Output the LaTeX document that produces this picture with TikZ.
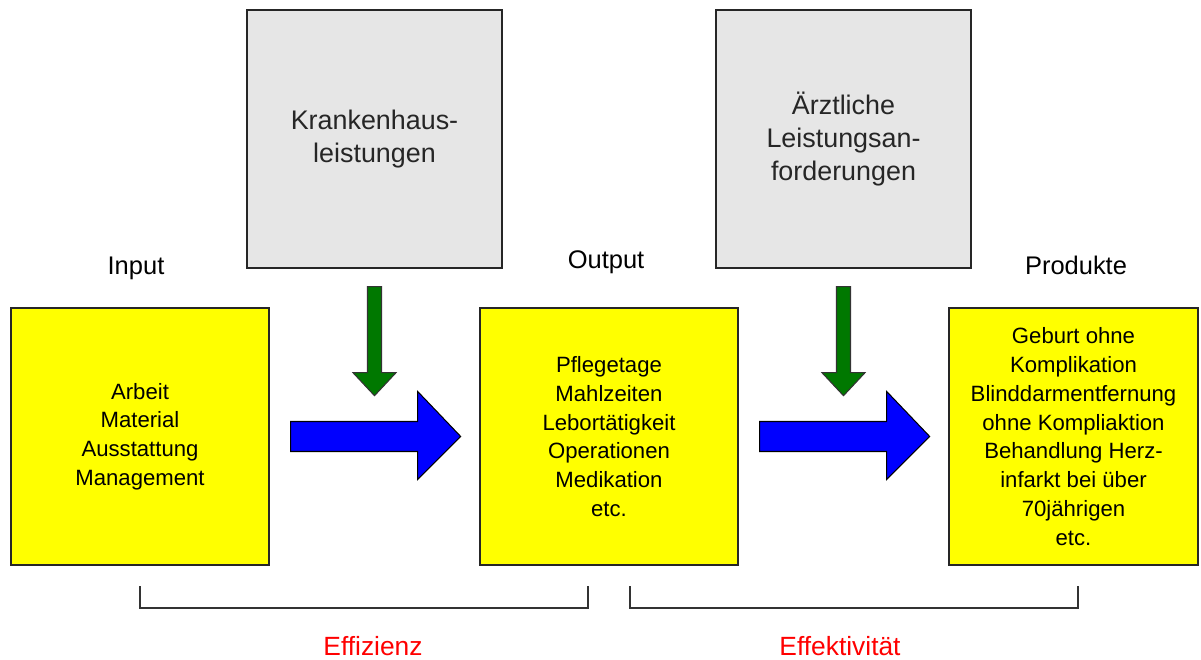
\documentclass[tikz,border=0pt]{standalone}
\usepackage{fontspec}
\setmainfont{Liberation Sans}
\usetikzlibrary{positioning,calc}
\definecolor{boxyellow}{RGB}{255,255,0}
\definecolor{boxgray}{RGB}{230,230,230}
\definecolor{arrowgreen}{RGB}{0,120,0}
\definecolor{arrowblue}{RGB}{0,0,255}
\definecolor{labelred}{RGB}{255,0,0}
\tikzset{
  graybox/.style={draw=black!85, line width=0.8pt, fill=boxgray, minimum width=5.1cm, minimum height=5.16cm,
    align=center, font=\fontsize{15.3}{18.7}\selectfont, text=black!85},
  yellowbox/.style={draw=black!85, line width=0.8pt, fill=boxyellow, minimum height=5.14cm,
    align=center, font=\fontsize{12.6}{16.4}\selectfont},
  headlabel/.style={font=\fontsize{14.5}{17}\selectfont},
  redlabel/.style={font=\fontsize{15}{17}\selectfont, text=labelred},
  bluearrow/.style={draw=black, line width=0.6pt, fill=arrowblue},
  greenarrow/.style={draw=black!80, line width=0.6pt, fill=arrowgreen},
  bracket/.style={draw=black!80, line width=0.8pt}
}
\begin{document}
\begin{tikzpicture}
    \useasboundingbox (0,0) rectangle (24.02,13.18);
    % Upper boxes
    \node[graybox] (haus) at (7.49,10.4) {Krankenhaus-\\leistungen};
    \node[graybox] (arzt) at (16.87,10.4) {Ärztliche\\Leistungsan-\\forderungen};
    % Yellow boxes
    \node[yellowbox, minimum width=5.16cm] (input) at (2.8,4.45) {Arbeit\\Material\\Ausstattung\\Management};
    \node[yellowbox, minimum width=5.16cm] (output) at (12.18,4.45) {Pflegetage\\Mahlzeiten\\Lebortätigkeit\\Operationen\\Medikation\\etc.};
    \node[yellowbox, minimum width=4.98cm] (produkte) at (21.47,4.45) {Geburt ohne\\Komplikation\\Blinddarmentfernung\\ohne Kompliaktion\\Behandlung Herz-\\infarkt bei über\\70jährigen\\etc.};
    % Labels
    \node[headlabel] (lin) at (2.72,7.82) {Input};
    \node[headlabel] (lout) at (12.12,7.94) {Output};
    \node[headlabel] (lprod) at (21.52,7.88) {Produkte};

    % Blue arrows
    \coordinate (b1) at ($(input.east)+(0.42,0)$);
    \draw[bluearrow] ($(b1)+(0,0.3)$) -- ++(2.54,0) -- ++(0,0.6) -- ($(b1)+(3.4,0)$)
      -- ($(b1)+(2.54,-0.86)$) -- ++(0,0.56) -- ($(b1)+(0,-0.3)$) -- cycle;
    \coordinate (b2) at ($(output.east)+(0.42,0)$);
    \draw[bluearrow] ($(b2)+(0,0.3)$) -- ++(2.54,0) -- ++(0,0.6) -- ($(b2)+(3.4,0)$)
      -- ($(b2)+(2.54,-0.86)$) -- ++(0,0.56) -- ($(b2)+(0,-0.3)$) -- cycle;

    % Green arrows
    \coordinate (g1) at ($(haus.south)+(0,-0.36)$);
    \draw[greenarrow] ($(g1)+(-0.14,0)$) -- ++(0,-1.72) -- ++(-0.29,0) -- ($(g1)+(0,-2.18)$)
      -- ($(g1)+(0.43,-1.72)$) -- ++(-0.29,0) -- ($(g1)+(0.14,0)$) -- cycle;
    \coordinate (g2) at ($(arzt.south)+(0,-0.36)$);
    \draw[greenarrow] ($(g2)+(-0.14,0)$) -- ++(0,-1.72) -- ++(-0.29,0) -- ($(g2)+(0,-2.18)$)
      -- ($(g2)+(0.43,-1.72)$) -- ++(-0.29,0) -- ($(g2)+(0.14,0)$) -- cycle;

    % Brackets
    \draw[bracket] (2.8,1.46) -- (2.8,1.02) -- (11.76,1.02) -- (11.76,1.46);
    \draw[bracket] (12.6,1.46) -- (12.6,1.02) -- (21.56,1.02) -- (21.56,1.46);
    \node[redlabel] (eff) at (7.46,0.26) {Effizienz};
    \node[redlabel] (efk) at (16.8,0.26) {Effektivität};
\end{tikzpicture}
\end{document}
